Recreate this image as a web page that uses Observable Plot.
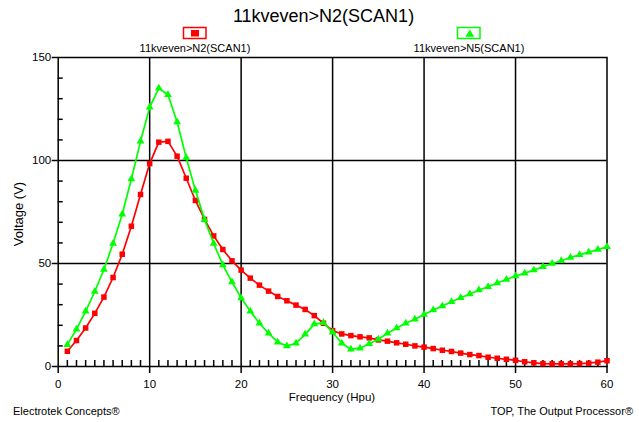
<!DOCTYPE html>
<html><head><meta charset="utf-8">
<script src="https://cdn.jsdelivr.net/npm/d3@7"></script>
<script src="https://cdn.jsdelivr.net/npm/@observablehq/plot@0.6"></script>
<style>body{margin:0;background:#fff} svg{display:block}</style>
</head><body><div id="chart"></div>
<script>
const frequency = [1,2,3,4,5,6,7,8,9,10,11,12,13,14,15,16,17,18,19,20,21,22,23,24,25,26,27,28,29,30,31,32,33,34,35,36,37,38,39,40,41,42,43,44,45,46,47,48,49,50,51,52,53,54,55,56,57,58,59,60];
const voltageN2 = [7.4,12.6,18.7,25.8,33.7,43.2,54.5,68.1,83.5,98.5,108.9,109.3,102.1,91.4,80.6,71.4,63.4,56.8,51.3,46.8,42.9,39.5,36.6,34.0,31.9,29.8,27.7,24.7,21.0,17.4,15.8,15.0,14.4,13.9,12.9,12.3,11.5,10.8,10.0,9.4,8.7,7.9,7.3,6.5,5.8,5.3,4.5,4.0,3.5,3.0,2.3,1.8,1.4,1.3,1.3,1.3,1.4,1.6,2.1,2.8];
const voltageN5 = [10.6,18.1,26.8,36.4,47.1,59.7,73.9,91.0,109.3,125.8,135.1,131.9,118.7,101.3,85.5,71.3,59.7,49.3,41.0,33.3,26.8,21.0,16.1,11.8,10.0,11.3,15.6,20.6,21.3,16.6,11.3,8.4,8.9,11.0,13.2,16.1,18.7,21.0,22.9,25.2,27.4,29.4,31.4,33.4,35.2,37.1,38.7,40.5,42.2,43.9,45.3,46.8,48.4,50.0,51.3,52.9,54.2,55.5,56.8,58.1];
const seriesNames = ["11kveven>N2(SCAN1)", "11kveven>N5(SCAN1)"];
const titleText = "11kveven>N2(SCAN1)";
const xTicks = [0,10,20,30,40,50,60];
const yTicks = [0,50,100,150];
const xGrid = [10,20,30,40,50];
const yGrid = [50,100];
const xMinor = [1,2,3,4,5,6,7,8,9,11,12,13,14,15,16,17,18,19,21,22,23,24,25,26,27,28,29,31,32,33,34,35,36,37,38,39,41,42,43,44,45,46,47,48,49,51,52,53,54,55,56,57,58,59];
const yMinor = [10,20,30,40,60,70,80,90,110,120,130,140];

const n2 = frequency.map((f,i)=>({f, v: voltageN2[i]}));
const n5 = frequency.map((f,i)=>({f, v: voltageN5[i]}));

const W = 639, H = 422;
const mL = 57.7, mR = 32.5, mT = 57, mB = 56;
const innerW = W - mL - mR, innerH = H - mT - mB;
const RED = "#ff0000", GREEN = "#00ff00";
const FONT = "'Liberation Sans', Arial, Helvetica, sans-serif";

const svg = Plot.plot({
  width: W, height: H,
  marginLeft: mL, marginRight: mR, marginTop: mT, marginBottom: mB,
  style: {fontFamily: FONT, fontSize: "11px", color: "#000", background: "#fff", overflow: "visible"},
  x: {domain: [0, 60]},
  y: {domain: [0, 150]},
  marks: [
    Plot.ruleX(xGrid, {stroke: "#000", strokeWidth: 1.5}),
    Plot.ruleY(yGrid, {stroke: "#000", strokeWidth: 1.5}),
    Plot.tickX(xMinor, {x: d => d, insetTop: innerH - 6, stroke: "#000", strokeWidth: 1.5}),
    Plot.tickY(yMinor, {y: d => d, insetRight: innerW - 5, stroke: "#000", strokeWidth: 1.5}),
    Plot.frame({stroke: "#000", strokeWidth: 1.5}),
    Plot.axisX({ticks: xTicks, tickSize: 7, tickPadding: 6, label: null, strokeWidth: 1.5, fontSize: 11.5}),
    Plot.axisY({ticks: yTicks, tickSize: 6, tickPadding: 1, label: null, strokeWidth: 1.5, fontSize: 11.5}),
    Plot.line(n2, {x: "f", y: "v", stroke: RED, strokeWidth: 1.7}),
    Plot.dot(n2, {x: "f", y: "v", symbol: "square", r: 3.1, fill: RED, stroke: "none"}),
    Plot.line(n5, {x: "f", y: "v", stroke: GREEN, strokeWidth: 1.7}),
    Plot.dot(n5, {x: "f", y: "v", symbol: "triangle", r: 2.9, fill: GREEN, stroke: "none"})
  ]
});

const s = d3.select(svg);
function txt(x, y, t, size, anchor, rotate) {
  const el = s.append("text")
    .attr("x", x).attr("y", y).attr("dy", "0.35em")
    .attr("text-anchor", anchor)
    .attr("font-family", FONT).attr("font-size", size).attr("fill", "#000")
    .text(t);
  if (rotate) el.attr("transform", `rotate(${rotate},${x},${y})`);
  return el;
}
txt(323.5, 15.5, titleText, 18, "middle");
// legend
s.append("rect").attr("x", 183.5).attr("y", 27.5).attr("width", 22.5).attr("height", 11)
  .attr("fill", "#fff").attr("stroke", RED).attr("stroke-width", 1.5);
s.append("rect").attr("x", 191).attr("y", 30).attr("width", 8).attr("height", 6.5).attr("fill", RED);
s.append("rect").attr("x", 457.5).attr("y", 27.5).attr("width", 22.5).attr("height", 11)
  .attr("fill", "#fff").attr("stroke", GREEN).attr("stroke-width", 1.5);
s.append("path").attr("d", "M469.8,29.5L474.2,36.7L465.4,36.7Z").attr("fill", GREEN);
txt(195, 47.7, seriesNames[0], 11, "middle");
txt(469, 47.7, seriesNames[1], 11, "middle");
// axis labels
txt(332, 397, "Frequency (Hpu)", 11.5, "middle");
txt(18.7, 214, "Voltage (V)", 13, "middle", -90);
// footers
txt(13, 411, "Electrotek Concepts®", 11, "start");
txt(633, 411, "TOP, The Output Processor®", 11, "end");

document.getElementById("chart").appendChild(svg);
</script>
</body></html>
